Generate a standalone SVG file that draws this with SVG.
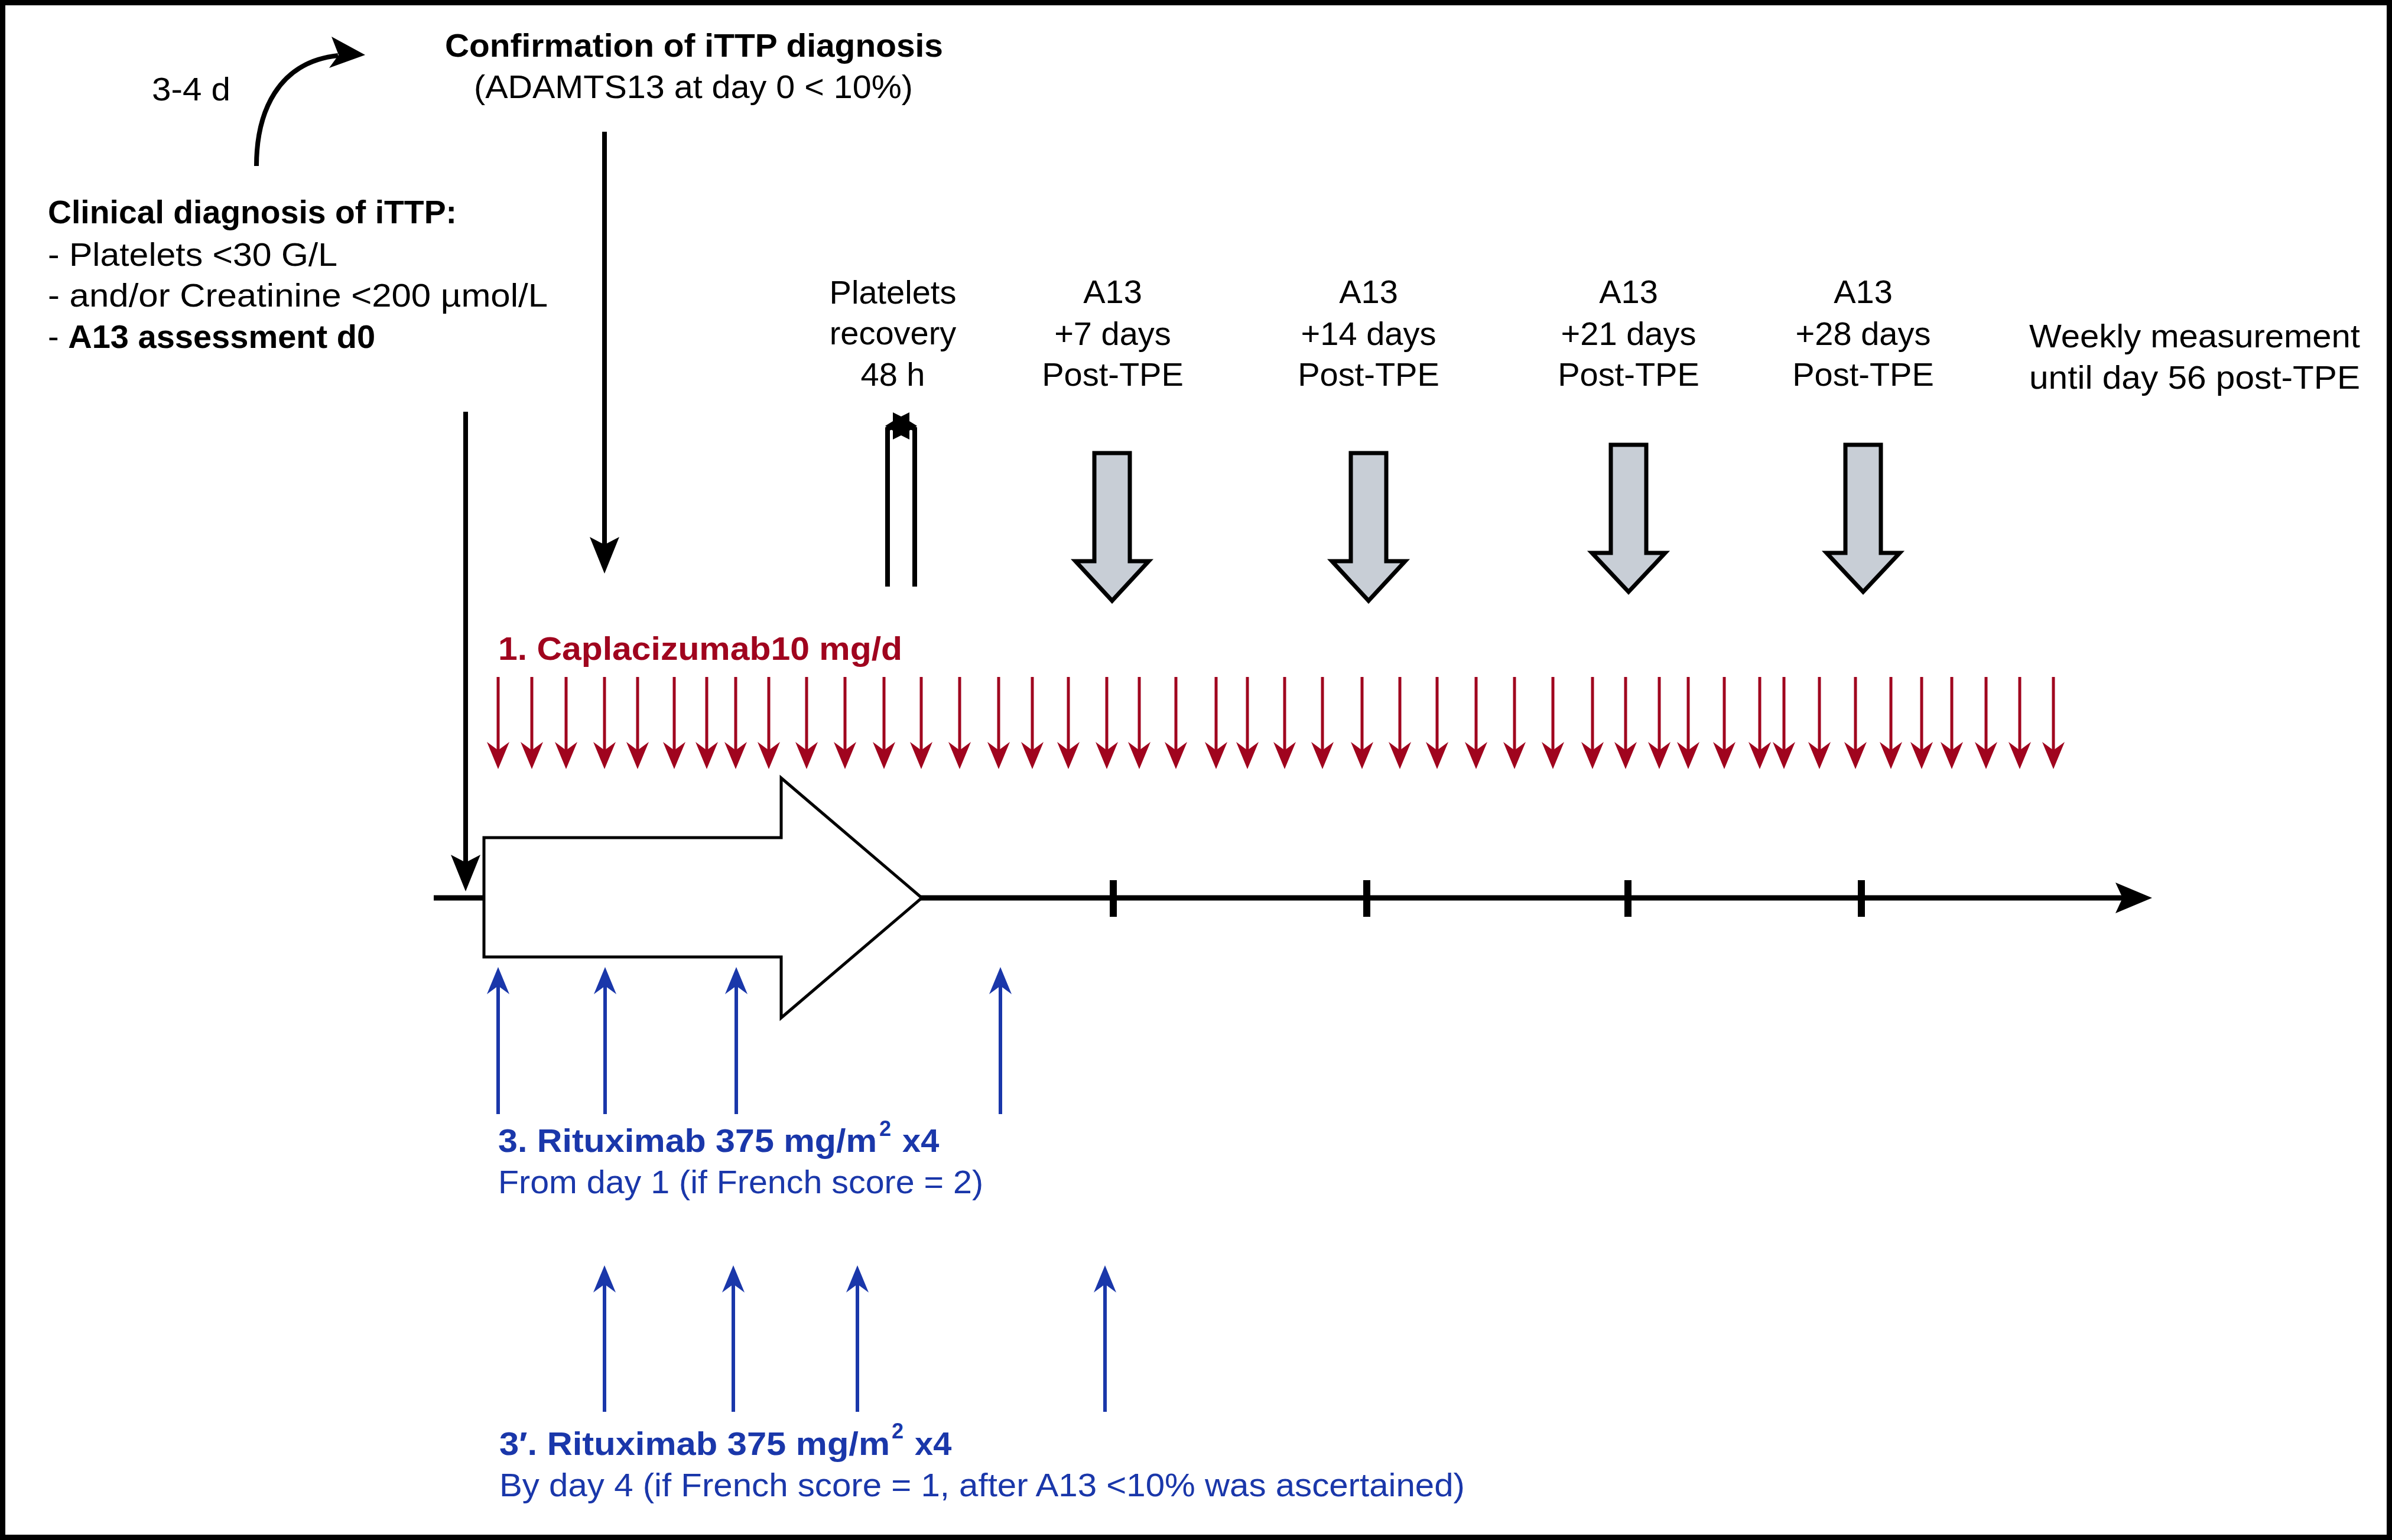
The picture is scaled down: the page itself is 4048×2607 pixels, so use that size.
<svg xmlns="http://www.w3.org/2000/svg" width="4048" height="2607" viewBox="0 0 4048 2607">
<style>
text{font-family:"Liberation Sans",Arial,sans-serif;font-size:56px;fill:#000}
.b{font-weight:bold}
.c{text-anchor:middle}
.red{fill:#A0041E}
.blue{fill:#1A37AA}
.rl{stroke:#A0041E;stroke-width:5;fill:none}
.bl{stroke:#1A37AA;stroke-width:6;fill:none}
.kl{stroke:#000;stroke-width:8;fill:none}
.gray{fill:#C8CED6;stroke:#000;stroke-width:7;stroke-linejoin:miter}
</style>
<defs>
<marker id="mRed" markerUnits="userSpaceOnUse" orient="auto" refX="-32" refY="0" markerWidth="60" markerHeight="60" overflow="visible"><path d="M0,0 L-46,-19 L-32,0 L-46,19 Z" fill="#A0041E"/></marker>
<marker id="mBlue" markerUnits="userSpaceOnUse" orient="auto" refX="-32" refY="0" markerWidth="60" markerHeight="60" overflow="visible"><path d="M0,0 L-46,-19 L-32,0 L-46,19 Z" fill="#1A37AA"/></marker>
<marker id="mBlk" markerUnits="userSpaceOnUse" orient="auto" refX="-49" refY="0" markerWidth="80" markerHeight="80" overflow="visible"><path d="M0,0 L-62,-25 L-49,0 L-62,25 Z" fill="#000"/></marker>
<marker id="mTime" markerUnits="userSpaceOnUse" orient="auto" refX="-50" refY="0" markerWidth="80" markerHeight="80" overflow="visible"><path d="M0,0 L-62,-26 L-50,0 L-62,26 Z" fill="#000"/></marker>
</defs>
<rect x="0" y="0" width="4048" height="2607" fill="#fff"/>
<rect x="4.5" y="4.5" width="4039" height="2598" fill="none" stroke="#000" stroke-width="9"/>

<g id="delay">
<text x="257" y="170" textLength="133" lengthAdjust="spacingAndGlyphs">3-4 d</text>
</g>
<g id="confirmation">
<text class="b" x="753" y="96" textLength="843" lengthAdjust="spacingAndGlyphs">Confirmation of iTTP diagnosis</text>
<text x="802" y="166" textLength="743" lengthAdjust="spacingAndGlyphs">(ADAMTS13 at day 0 &lt; 10%)</text>
</g>
<g id="clinical">
<text class="b" x="81" y="378" textLength="692" lengthAdjust="spacingAndGlyphs">Clinical diagnosis of iTTP:</text>
<text x="81" y="450" textLength="490" lengthAdjust="spacingAndGlyphs">- Platelets &lt;30 G/L</text>
<text x="81" y="519" textLength="846" lengthAdjust="spacingAndGlyphs">- and/or Creatinine &lt;200 µmol/L</text>
<text x="81" y="589">- <tspan class="b">A13 assessment d0</tspan></text>
</g>
<g id="platelets">
<text class="c" x="1511" y="514">Platelets</text>
<text class="c" x="1511" y="583">recovery</text>
<text class="c" x="1511" y="653">48 h</text>
<polyline points="1502,993 1502,726 1525,716 1548,726 1548,993" fill="none" stroke="#000" stroke-width="8"/>
<polygon points="1552,721 1539,729 1539,744 1525,737 1511,744 1511,729 1498,721 1511,713 1511,698 1525,705 1539,698 1539,713" fill="#000"/>
</g>
<g id="a13-7">
<text class="c" x="1883" y="513">A13</text>
<text class="c" x="1883" y="584">+7 days</text>
<text class="c" x="1883" y="653">Post-TPE</text>
<polygon class="gray" points="1852,767 1912,767 1912,950 1944,950 1882,1017 1820,950 1852,950"/>
</g>
<g id="a13-14">
<text class="c" x="2316" y="513">A13</text>
<text class="c" x="2316" y="584">+14 days</text>
<text class="c" x="2316" y="653">Post-TPE</text>
<polygon class="gray" points="2286,767 2346,767 2346,950 2378,950 2316,1017 2254,950 2286,950"/>
</g>
<g id="a13-21">
<text class="c" x="2756" y="513">A13</text>
<text class="c" x="2756" y="584">+21 days</text>
<text class="c" x="2756" y="653">Post-TPE</text>
<polygon class="gray" points="2726,753 2786,753 2786,936 2818,936 2756,1002 2694,936 2726,936"/>
</g>
<g id="a13-28">
<text class="c" x="3153" y="513">A13</text>
<text class="c" x="3153" y="584">+28 days</text>
<text class="c" x="3153" y="653">Post-TPE</text>
<polygon class="gray" points="3123,753 3183,753 3183,936 3215,936 3153,1002 3091,936 3123,936"/>
</g>
<g id="weekly">
<text class="c" x="3714" y="588" textLength="560" lengthAdjust="spacingAndGlyphs">Weekly measurement</text>
<text class="c" x="3714" y="658" textLength="560" lengthAdjust="spacingAndGlyphs">until day 56 post-TPE</text>
</g>
<g id="caplacizumab">
<text class="b red" x="843" y="1117" textLength="684" lengthAdjust="spacingAndGlyphs">1. Caplacizumab10 mg/d</text>
</g>
<g id="rituximab">
<text class="b blue" x="843" y="1950" textLength="641" lengthAdjust="spacingAndGlyphs">3. Rituximab 375 mg/m</text>
<text class="b blue" x="1488" y="1923" style="font-size:36px">2</text>
<text class="b blue" x="1527" y="1950">x4</text>
<text class="blue" x="843" y="2020" textLength="821" lengthAdjust="spacingAndGlyphs">From day 1 (if French score = 2)</text>
</g>
<g id="rituximab-prime">
<text class="b blue" x="845" y="2463" textLength="661" lengthAdjust="spacingAndGlyphs">3′. Rituximab 375 mg/m</text>
<text class="b blue" x="1509" y="2435" style="font-size:36px">2</text>
<text class="b blue" x="1548" y="2463">x4</text>
<text class="blue" x="845" y="2533" textLength="1634" lengthAdjust="spacingAndGlyphs">By day 4 (if French score = 1, after A13 &lt;10% was ascertained)</text>
</g>

<g id="timeline">
<line x1="734" y1="1520" x2="3592" y2="1520" stroke="#000" stroke-width="9" marker-end="url(#mTime)"/>
<rect x="1878" y="1490" width="12" height="62" fill="#000"/>
<rect x="2307" y="1490" width="12" height="62" fill="#000"/>
<rect x="2749" y="1490" width="12" height="62" fill="#000"/>
<rect x="3144" y="1490" width="12" height="62" fill="#000"/>
</g>
<g id="tpe-arrow">
<polygon points="819,1418 1322,1418 1322,1317 1560,1520 1322,1723 1322,1620 819,1620" fill="#fff" stroke="#000" stroke-width="5" stroke-linejoin="miter"/>
</g>

<g id="connectors">
<path class="kl" d="M434,281 C434,190 470,105 572,94"/>
<polygon points="618,93 561,62 573,93 557,115" fill="#000"/>
<line class="kl" x1="1023" y1="223" x2="1023" y2="922" marker-end="url(#mBlk)"/>
<line class="kl" x1="788" y1="697" x2="788" y2="1460" marker-end="url(#mBlk)"/>
<g class="rl">
<line x1="843" y1="1146" x2="843" y2="1270" marker-end="url(#mRed)"/>
<line x1="900" y1="1146" x2="900" y2="1270" marker-end="url(#mRed)"/>
<line x1="958" y1="1146" x2="958" y2="1270" marker-end="url(#mRed)"/>
<line x1="1023" y1="1146" x2="1023" y2="1270" marker-end="url(#mRed)"/>
<line x1="1079" y1="1146" x2="1079" y2="1270" marker-end="url(#mRed)"/>
<line x1="1141" y1="1146" x2="1141" y2="1270" marker-end="url(#mRed)"/>
<line x1="1196" y1="1146" x2="1196" y2="1270" marker-end="url(#mRed)"/>
<line x1="1245" y1="1146" x2="1245" y2="1270" marker-end="url(#mRed)"/>
<line x1="1301" y1="1146" x2="1301" y2="1270" marker-end="url(#mRed)"/>
<line x1="1365" y1="1146" x2="1365" y2="1270" marker-end="url(#mRed)"/>
<line x1="1430" y1="1146" x2="1430" y2="1270" marker-end="url(#mRed)"/>
<line x1="1496" y1="1146" x2="1496" y2="1270" marker-end="url(#mRed)"/>
<line x1="1559" y1="1146" x2="1559" y2="1270" marker-end="url(#mRed)"/>
<line x1="1624" y1="1146" x2="1624" y2="1270" marker-end="url(#mRed)"/>
<line x1="1690" y1="1146" x2="1690" y2="1270" marker-end="url(#mRed)"/>
<line x1="1747" y1="1146" x2="1747" y2="1270" marker-end="url(#mRed)"/>
<line x1="1808" y1="1146" x2="1808" y2="1270" marker-end="url(#mRed)"/>
<line x1="1873" y1="1146" x2="1873" y2="1270" marker-end="url(#mRed)"/>
<line x1="1928" y1="1146" x2="1928" y2="1270" marker-end="url(#mRed)"/>
<line x1="1990" y1="1146" x2="1990" y2="1270" marker-end="url(#mRed)"/>
<line x1="2058" y1="1146" x2="2058" y2="1270" marker-end="url(#mRed)"/>
<line x1="2111" y1="1146" x2="2111" y2="1270" marker-end="url(#mRed)"/>
<line x1="2174" y1="1146" x2="2174" y2="1270" marker-end="url(#mRed)"/>
<line x1="2238" y1="1146" x2="2238" y2="1270" marker-end="url(#mRed)"/>
<line x1="2305" y1="1146" x2="2305" y2="1270" marker-end="url(#mRed)"/>
<line x1="2369" y1="1146" x2="2369" y2="1270" marker-end="url(#mRed)"/>
<line x1="2432" y1="1146" x2="2432" y2="1270" marker-end="url(#mRed)"/>
<line x1="2498" y1="1146" x2="2498" y2="1270" marker-end="url(#mRed)"/>
<line x1="2563" y1="1146" x2="2563" y2="1270" marker-end="url(#mRed)"/>
<line x1="2628" y1="1146" x2="2628" y2="1270" marker-end="url(#mRed)"/>
<line x1="2695" y1="1146" x2="2695" y2="1270" marker-end="url(#mRed)"/>
<line x1="2751" y1="1146" x2="2751" y2="1270" marker-end="url(#mRed)"/>
<line x1="2808" y1="1146" x2="2808" y2="1270" marker-end="url(#mRed)"/>
<line x1="2857" y1="1146" x2="2857" y2="1270" marker-end="url(#mRed)"/>
<line x1="2918" y1="1146" x2="2918" y2="1270" marker-end="url(#mRed)"/>
<line x1="2978" y1="1146" x2="2978" y2="1270" marker-end="url(#mRed)"/>
<line x1="3019" y1="1146" x2="3019" y2="1270" marker-end="url(#mRed)"/>
<line x1="3079" y1="1146" x2="3079" y2="1270" marker-end="url(#mRed)"/>
<line x1="3140" y1="1146" x2="3140" y2="1270" marker-end="url(#mRed)"/>
<line x1="3200" y1="1146" x2="3200" y2="1270" marker-end="url(#mRed)"/>
<line x1="3252" y1="1146" x2="3252" y2="1270" marker-end="url(#mRed)"/>
<line x1="3303" y1="1146" x2="3303" y2="1270" marker-end="url(#mRed)"/>
<line x1="3361" y1="1146" x2="3361" y2="1270" marker-end="url(#mRed)"/>
<line x1="3418" y1="1146" x2="3418" y2="1270" marker-end="url(#mRed)"/>
<line x1="3475" y1="1146" x2="3475" y2="1270" marker-end="url(#mRed)"/>
</g>
<g class="bl">
<line x1="843" y1="1886" x2="843" y2="1669" marker-end="url(#mBlue)"/>
<line x1="1024" y1="1886" x2="1024" y2="1669" marker-end="url(#mBlue)"/>
<line x1="1246" y1="1886" x2="1246" y2="1669" marker-end="url(#mBlue)"/>
<line x1="1693" y1="1886" x2="1693" y2="1669" marker-end="url(#mBlue)"/>
<line x1="1023" y1="2390" x2="1023" y2="2174" marker-end="url(#mBlue)"/>
<line x1="1241" y1="2390" x2="1241" y2="2174" marker-end="url(#mBlue)"/>
<line x1="1451" y1="2390" x2="1451" y2="2174" marker-end="url(#mBlue)"/>
<line x1="1870" y1="2390" x2="1870" y2="2174" marker-end="url(#mBlue)"/>
</g>
</g>
</svg>
